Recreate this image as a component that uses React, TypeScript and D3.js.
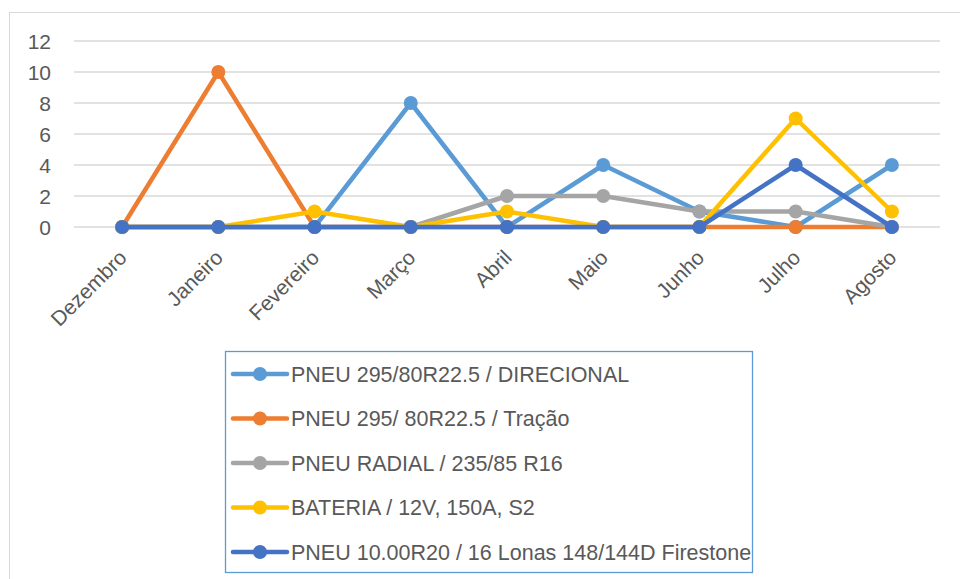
import * as d3 from "d3";

const months = ["Dezembro", "Janeiro", "Fevereiro", "Março", "Abril", "Maio", "Junho", "Julho", "Agosto"];
const yTicks = [0, 2, 4, 6, 8, 10, 12];

const seriesNames = [
  "PNEU 295/80R22.5 / DIRECIONAL",
  "PNEU 295/ 80R22.5 / Tração",
  "PNEU RADIAL / 235/85 R16",
  "BATERIA / 12V, 150A, S2",
  "PNEU 10.00R20 / 16 Lonas 148/144D Firestone",
];
const seriesColors = ["#5b9bd5", "#ed7d31", "#a5a5a5", "#ffc000", "#4472c4"];

const direcional = [0, 0, 0, 8, 0, 4, 1, 0, 4];
const tracao = [0, 10, 0, 0, 0, 0, 0, 0, 0];
const radial = [0, 0, 0, 0, 2, 2, 1, 1, 0];
const bateria = [0, 0, 1, 0, 1, 0, 0, 7, 1];
const firestone = [0, 0, 0, 0, 0, 0, 0, 4, 0];

const seriesValues = [direcional, tracao, radial, bateria, firestone];

const W = 960;
const H = 579;
const plot = { left: 74, right: 940, top: 41, bottom: 227 };
const font = "'Liberation Sans', Arial, sans-serif";
const textColor = "#595959";

export default function App() {
  const x = d3.scaleBand<string>().domain(months).range([plot.left, plot.right]);
  const y = d3.scaleLinear().domain([0, 12]).range([plot.bottom, plot.top]);
  const cx = (i: number) => (x(months[i]) as number) + x.bandwidth() / 2;
  const line = d3
    .line<number>()
    .x((_, i) => cx(i))
    .y((v) => y(v));

  const legendX = 225;
  const legendY = 351;
  const legendStep = 44.5;

  return (
    <svg
      width={W}
      height={H}
      style={{ position: "fixed", left: 0, top: 0, background: "#fff" }}
      fontFamily={font}
    >
      <rect x={9.5} y={12.5} width={W + 10} height={H + 10} fill="#fff" stroke="#d9d9d9" />

      {/* grid + y axis */}
      {yTicks.map((t) => (
        <g key={t}>
          <line x1={plot.left} x2={plot.right} y1={y(t)} y2={y(t)} stroke="#d9d9d9" strokeWidth={1.3} />
          <text x={51} y={y(t)} dy="0.36em" textAnchor="end" fontSize={21} fill={textColor}>
            {t}
          </text>
        </g>
      ))}

      {/* x labels */}
      {months.map((m, i) => (
        <text
          key={m}
          transform={`translate(${cx(i) + 6},${259}) rotate(-45)`}
          textAnchor="end"
          fontSize={21}
          fill={textColor}
        >
          {m}
        </text>
      ))}

      {/* series */}
      {seriesValues.map((vals, si) => (
        <g key={si}>
          <path d={line(vals) || ""} fill="none" stroke={seriesColors[si]} strokeWidth={4.5} strokeLinejoin="round" />
          {vals.map((v, i) => (
            <circle key={i} cx={cx(i)} cy={y(v)} r={7} fill={seriesColors[si]} />
          ))}
        </g>
      ))}

      {/* legend */}
      <rect x={legendX + 0.5} y={legendY + 0.5} width={527} height={221} fill="#fff" stroke="#5b9bd5" strokeWidth={1.3} />
      {seriesNames.map((name, i) => {
        const ly = legendY + 23 + i * legendStep;
        return (
          <g key={name}>
            <line x1={233} x2={287} y1={ly} y2={ly} stroke={seriesColors[i]} strokeWidth={4.5} strokeLinecap="round" />
            <circle cx={260} cy={ly} r={7} fill={seriesColors[i]} />
            <text x={291} y={ly} dy="0.36em" fontSize={21.5} fill={textColor}>
              {name}
            </text>
          </g>
        );
      })}
    </svg>
  );
}
